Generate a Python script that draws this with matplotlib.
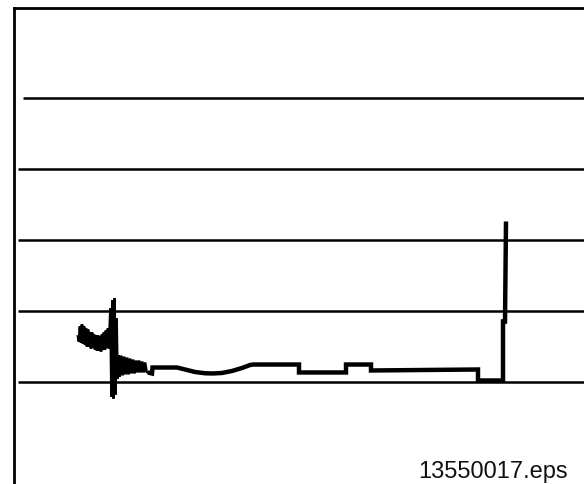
import matplotlib
matplotlib.use("Agg")
import matplotlib.pyplot as plt

# Reference levels (horizontal rules) and where each rule starts on the time axis
level_values = [0.0, 1.0, 2.0, 3.0, 4.0]
level_starts = [0.4, 0.4, 0.4, 0.4, 0.9]

# Initial burst: dense oscillation followed by the large transient
burst_t = [6.4, 6.5, 6.6, 6.7, 6.8, 6.9, 7.0, 7.1, 7.2, 7.3, 7.4, 7.5, 7.6, 7.7,
           7.8, 7.9, 8.0, 8.1, 8.2, 8.3, 8.4, 8.5, 8.6, 8.7, 8.8, 8.9, 9.0, 9.1,
           9.2, 9.3, 9.4, 9.5, 9.65, 9.75, 9.85, 9.95, 10.05, 10.15, 10.25, 10.35,
           10.45, 10.55, 10.7, 10.85, 11.0, 11.15, 11.3, 11.45, 11.6, 11.75, 11.9,
           12.05, 12.2, 12.35, 12.5, 12.65, 12.8, 12.95, 13.1, 13.25, 13.4]
burst_v = [0.641, 0.570, 0.782, 0.556, 0.810, 0.542, 0.782, 0.528, 0.754, 0.500,
           0.739, 0.500, 0.697, 0.472, 0.697, 0.486, 0.669, 0.458, 0.655, 0.444,
           0.655, 0.444, 0.641, 0.430, 0.669, 0.458, 0.697, 0.458, 0.725, 0.486,
           0.754, 0.472, 1.035, -0.204, 1.148, -0.232, 1.176, -0.176, 0.894, 0.049,
           0.373, 0.077, 0.373, 0.092, 0.359, 0.106, 0.345, 0.106, 0.331, 0.120,
           0.317, 0.120, 0.303, 0.134, 0.303, 0.134, 0.289, 0.134, 0.275, 0.148,
           0.134]

# Settled trace after the burst, ending in the final rise
trace_t = [13.4, 13.8, 13.85, 16.3, 17.1, 18.1, 19.1, 19.9, 20.8, 21.8, 22.8,
           23.6, 23.9, 28.5, 28.5, 33.2, 33.2, 35.7, 35.7, 46.4, 46.4, 48.9,
           48.9, 49.1, 49.2]
trace_v = [0.134, 0.120, 0.204, 0.204, 0.176, 0.141, 0.123, 0.120, 0.127, 0.155,
           0.197, 0.239, 0.246, 0.246, 0.134, 0.134, 0.246, 0.246, 0.162, 0.176,
           0.021, 0.021, 0.852, 0.852, 2.261]

label_text = "13550017.eps"

fig = plt.figure(figsize=(5.84, 4.85), dpi=100)
ax = fig.add_axes([14 / 584, 0.0, 570 / 584, 476 / 485])
ax.set_xlim(0, 57)
ax.set_ylim(-1.437, 5.268)

for lvl, start in zip(level_values, level_starts):
    ax.hlines(lvl, start, 57, colors="black", linewidth=1.8)

ax.plot(burst_t, burst_v, color="black", linewidth=2.0, solid_joinstyle="miter")
ax.plot(trace_t, trace_v, color="black", linewidth=3.2,
        solid_joinstyle="miter", solid_capstyle="butt")

for side in ("right", "bottom"):
    ax.spines[side].set_visible(False)
for side in ("left", "top"):
    ax.spines[side].set_linewidth(2.0)
ax.set_xticks([])
ax.set_yticks([])

fig.text(568 / 584, 1 - 478 / 485, label_text, ha="right", va="baseline",
         fontsize=17, family="Liberation Sans", color="#111111")

fig.savefig("out.png", dpi=100)
